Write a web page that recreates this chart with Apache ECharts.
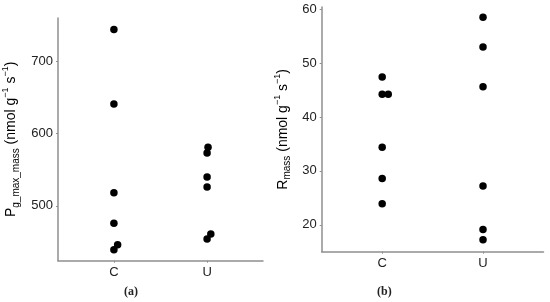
<!DOCTYPE html>
<html>
<head>
<meta charset="utf-8">
<script src="https://cdn.jsdelivr.net/npm/echarts@6/dist/echarts.min.js"></script>
<style>
  html, body { margin: 0; padding: 0; background: #fff; }
  #chart { width: 550px; height: 302px; }
</style>
</head>
<body>
<div id="chart"></div>
<script>
// categories (C = 1, U = 2), small jitter offsets
const categories = ['C', 'U'];

// panel (a): P_g_max_mass
const pgC = [[1, 744], [1, 641], [1, 518], [1, 476], [1, 439], [1.04, 446]];
const pgU = [[2.01, 581], [2, 573], [2, 540], [2, 526], [2.04, 461], [2, 454]];
const pgTicks = [500, 600, 700];

// panel (b): R_mass
const rmC = [[1, 47.4], [1, 44.2], [1.06, 44.2], [1, 34.4], [1, 28.6], [1, 23.9]];
const rmU = [[2, 58.5], [2, 53.0], [2, 45.6], [2, 27.2], [2, 19.1], [2, 17.2]];
const rmTicks = [20, 30, 40, 50, 60];

const chart = echarts.init(document.getElementById('chart'));

const axisGrey = '#8f8f8f';

function xAxisOpt(gridIndex) {
  return {
    type: 'value',
    gridIndex: gridIndex,
    min: 0.4,
    max: 2.6,
    splitLine: { show: false },
    axisLine: { lineStyle: { color: axisGrey, width: 1.5 } },
    axisTick: { show: true, length: 2, customValues: [1, 2], lineStyle: { color: axisGrey } },
    axisLabel: {
      customValues: [1, 2],
      formatter: v => categories[Math.round(v) - 1],
      color: '#222',
      fontSize: 13,
      fontFamily: 'Liberation Sans',
      margin: 5
    }
  };
}

function yAxisOpt(gridIndex, min, max, ticks, name) {
  return {
    type: 'value',
    gridIndex: gridIndex,
    min: min,
    max: max,
    splitLine: { show: false },
    axisLine: { show: true, lineStyle: { color: axisGrey, width: 1.5 } },
    axisTick: { show: true, length: 2, customValues: ticks, lineStyle: { color: axisGrey } },
    axisLabel: {
      customValues: ticks,
      color: '#222',
      fontSize: 13,
      fontFamily: 'Liberation Sans',
      margin: 5
    },
    name: name,
    nameLocation: 'middle',
    nameTextStyle: {
      color: '#000',
      fontSize: 14,
      fontFamily: 'Liberation Sans',
      lineHeight: 20,
      rich: {
        sub: { fontSize: 10, fontFamily: 'Liberation Sans', color: '#000', lineHeight: 14, verticalAlign: 'bottom' },
        sup: { fontSize: 9, fontFamily: 'Liberation Sans', color: '#000', lineHeight: 12, verticalAlign: 'top' }
      }
    }
  };
}

const dotStyle = { color: '#000', opacity: 1 };

const option = {
  animation: false,
  grid: [
    { left: 53.5, top: 18, width: 209.5, height: 242.7 },
    { left: 321.7, top: 7, width: 221.8, height: 244.7 }
  ],
  xAxis: [xAxisOpt(0), xAxisOpt(1)],
  yAxis: [
    Object.assign(yAxisOpt(0, 424, 760, pgTicks,
      'P{sub|g_max_mass} (nmol g{sup|−1} s{sup|−1})'), { nameGap: 37 }),
    Object.assign(yAxisOpt(1, 15, 60.4, rmTicks,
      'R{sub|mass} (nmol g{sup|−1} s{sup|−1})'), { nameGap: 29 })
  ],
  series: [
    { type: 'scatter', xAxisIndex: 0, yAxisIndex: 0, data: pgC, symbolSize: 7.5, itemStyle: dotStyle },
    { type: 'scatter', xAxisIndex: 0, yAxisIndex: 0, data: pgU, symbolSize: 7.5, itemStyle: dotStyle },
    { type: 'scatter', xAxisIndex: 1, yAxisIndex: 1, data: rmC, symbolSize: 7.5, itemStyle: dotStyle },
    { type: 'scatter', xAxisIndex: 1, yAxisIndex: 1, data: rmU, symbolSize: 7.5, itemStyle: dotStyle }
  ],
  // panel captions
  graphic: [
    { type: 'text', left: 124, top: 286,
      style: { text: '(a)', font: 'bold 12px "Liberation Serif"', fill: '#222' } },
    { type: 'text', left: 377, top: 286,
      style: { text: '(b)', font: 'bold 12px "Liberation Serif"', fill: '#222' } }
  ]
};

chart.setOption(option);
window.addEventListener('resize', chart.resize);
</script>
</body>
</html>
